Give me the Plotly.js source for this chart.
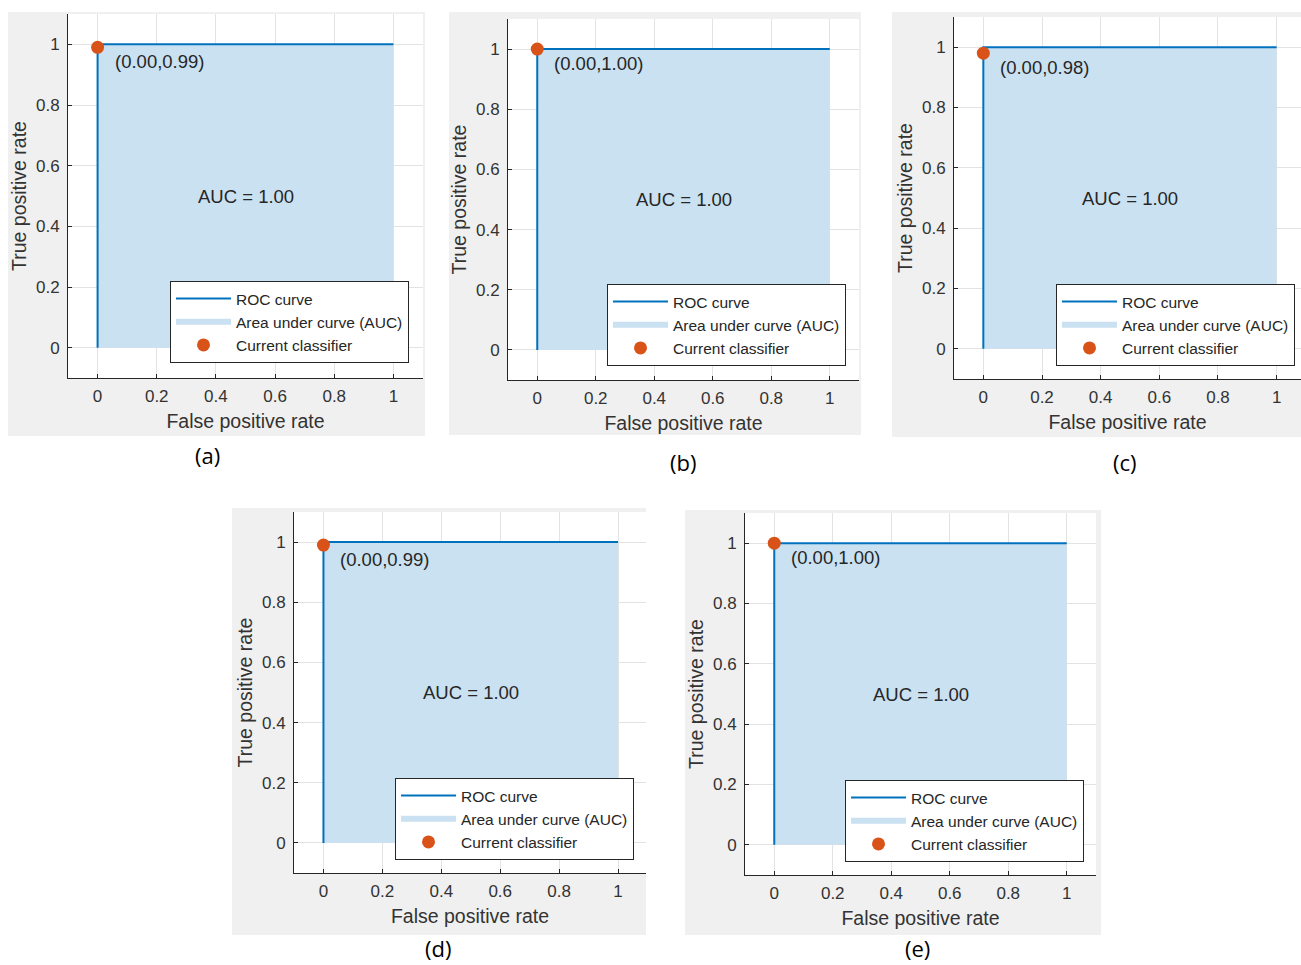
<!DOCTYPE html>
<html>
<head>
<meta charset="utf-8">
<script src="https://cdn.plot.ly/plotly-3.0.1.min.js"></script>
<style>
  html, body { margin: 0; padding: 0; background: #ffffff; }
  #chart { width: 1301px; height: 965px; }
</style>
</head>
<body>
<div id="chart"></div>
<script>
// ---------------- data ----------------
const panelLabels = ['(a)', '(b)', '(c)', '(d)', '(e)'];
const rocFPR_a = [0, 0, 0, 1];
const rocTPR_a = [0, 0.99, 1, 1];
const rocFPR_b = [0, 0, 0, 1];
const rocTPR_b = [0, 1.00, 1, 1];
const rocFPR_c = [0, 0, 0, 1];
const rocTPR_c = [0, 0.98, 1, 1];
const rocFPR_d = [0, 0, 0, 1];
const rocTPR_d = [0, 0.99, 1, 1];
const rocFPR_e = [0, 0, 0, 1];
const rocTPR_e = [0, 1.00, 1, 1];
const opFPR = [0.00, 0.00, 0.00, 0.00, 0.00];
const opTPR = [0.99, 1.00, 0.98, 0.99, 1.00];
const aucValues = [1.00, 1.00, 1.00, 1.00, 1.00];
const tickValues = [0, 0.2, 0.4, 0.6, 0.8, 1];
const tickLabels = ['0', '0.2', '0.4', '0.6', '0.8', '1'];
const seriesNames = ['ROC curve', 'Area under curve (AUC)', 'Current classifier'];
const xTitle = 'False positive rate';
const yTitle = 'True positive rate';

const rocFPR = [rocFPR_a, rocFPR_b, rocFPR_c, rocFPR_d, rocFPR_e];
const rocTPR = [rocTPR_a, rocTPR_b, rocTPR_c, rocTPR_d, rocTPR_e];

// ---------------- layout geometry (pixels) ----------------
const W = 1301, H = 965;
const geo = [
  {plot: [68, 423, 14, 378],  bg: [8, 425, 12, 436],   label: [207, 455], xr: [-0.1, 1.1],   leg: [409, 363]},
  {plot: [508, 859, 19, 380], bg: [449, 861, 12, 435], label: [683, 462], xr: [-0.1, 1.1],   leg: [846, 366]},
  {plot: [954, 1301, 17, 379],bg: [892, 1301, 12, 437],label: [1125, 462],xr: [-0.1, 1.083], leg: [1295, 366]},
  {plot: [294, 646, 512, 873],bg: [232, 646, 508, 935],label: [438, 948], xr: [-0.1, 1.095], leg: [634, 860]},
  {plot: [745, 1096, 513, 875],bg: [685, 1101, 510, 935],label: [917, 948], xr: [-0.1, 1.1], leg: [1084, 862]}
];
const px = v => v / W;
const py = v => 1 - v / H;

const FONT = '"Liberation Sans", Arial, Helvetica, sans-serif';
const TXT = '#333333';
const ROC_COLOR = '#0072BD';
const AUC_FILL = '#cae1f1';
const OP_COLOR = '#D95319';

const data = [];
const layout = {
  width: W, height: H,
  margin: {l: 0, r: 0, t: 0, b: 0},
  paper_bgcolor: '#ffffff',
  plot_bgcolor: 'rgba(0,0,0,0)',
  showlegend: true,
  font: {family: FONT, color: TXT},
  shapes: [],
  annotations: []
};

geo.forEach((g, i) => {
  const n = i + 1;
  const xa = n === 1 ? 'x' : 'x' + n;
  const ya = n === 1 ? 'y' : 'y' + n;
  const legName = n === 1 ? 'legend' : 'legend' + n;
  const xKey = n === 1 ? 'xaxis' : 'xaxis' + n;
  const yKey = n === 1 ? 'yaxis' : 'yaxis' + n;

  // backgrounds (gray figure area, white axes area)
  layout.shapes.push({type: 'rect', xref: 'paper', yref: 'paper', layer: 'below',
    x0: px(g.bg[0]), x1: px(g.bg[1]), y0: py(g.bg[3]), y1: py(g.bg[2]),
    fillcolor: '#f0f0f0', line: {width: 0}});
  layout.shapes.push({type: 'rect', xref: 'paper', yref: 'paper', layer: 'below',
    x0: px(g.plot[0]), x1: px(g.plot[1]), y0: py(g.plot[3]), y1: py(g.plot[2]),
    fillcolor: '#ffffff', line: {width: 0}});

  const axisCommon = {
    tickmode: 'array', tickvals: tickValues, ticktext: tickLabels,
    showgrid: true, gridcolor: '#e3e3e3', gridwidth: 1,
    zeroline: false, showline: true, linecolor: '#262626', linewidth: 1,
    ticks: 'inside', ticklen: 4, tickcolor: '#262626', tickwidth: 1,
    tickfont: {family: FONT, size: 17, color: TXT},
    fixedrange: true, automargin: false
  };
  layout[xKey] = Object.assign({}, axisCommon, {
    domain: [px(g.plot[0]), px(g.plot[1])],
    range: g.xr, anchor: ya,
    ticklabelstandoff: 3,
    title: {text: xTitle, font: {family: FONT, size: 19.5, color: TXT}, standoff: 8}
  });
  layout[yKey] = Object.assign({}, axisCommon, {
    domain: [py(g.plot[3]), py(g.plot[2])],
    range: [-0.1, 1.1], anchor: xa,
    ticklabelstandoff: 4,
    title: {text: yTitle, font: {family: FONT, size: 19.5, color: TXT}, standoff: 4}
  });

  // traces
  data.push({type: 'scatter', x: rocFPR[i], y: rocTPR[i], xaxis: xa, yaxis: ya,
    mode: 'none', fill: 'tozeroy', fillcolor: AUC_FILL,
    name: seriesNames[1], legend: legName, legendrank: 2, hoverinfo: 'skip'});
  data.push({type: 'scatter', x: rocFPR[i], y: rocTPR[i], xaxis: xa, yaxis: ya,
    mode: 'lines', line: {color: ROC_COLOR, width: 2},
    name: seriesNames[0], legend: legName, legendrank: 1});
  data.push({type: 'scatter', x: [opFPR[i]], y: [opTPR[i]], xaxis: xa, yaxis: ya,
    mode: 'markers', marker: {color: OP_COLOR, size: 13, line: {width: 0}},
    name: seriesNames[2], legend: legName, legendrank: 3, cliponaxis: false});

  // legend
  layout[legName] = {
    x: px(g.leg[0]), y: py(g.leg[1]), xanchor: 'right', yanchor: 'bottom',
    xref: 'paper', yref: 'paper',
    bgcolor: '#ffffff', bordercolor: '#262626', borderwidth: 1,
    font: {family: FONT, size: 15.5, color: '#262626'},
    itemwidth: 55, tracegroupgap: 0, traceorder: 'normal'
  };

  // annotations
  layout.annotations.push({xref: xa, yref: ya, x: opFPR[i], y: opTPR[i],
    text: '(' + opFPR[i].toFixed(2) + ',' + opTPR[i].toFixed(2) + ')',
    showarrow: false, xanchor: 'left', yanchor: 'middle', xshift: 15, yshift: -14,
    font: {family: FONT, size: 18.5, color: '#262626'}});
  layout.annotations.push({xref: xa, yref: ya, x: 0.5, y: 0.5,
    text: 'AUC = ' + aucValues[i].toFixed(2),
    showarrow: false, xanchor: 'center', yanchor: 'middle',
    font: {family: FONT, size: 18.5, color: '#262626'}});
  layout.annotations.push({xref: 'paper', yref: 'paper', x: px(g.label[0]), y: py(g.label[1]),
    text: panelLabels[i], showarrow: false, xanchor: 'center', yanchor: 'middle',
    font: {family: '"Open Sans", "Liberation Sans", sans-serif', size: 22, color: '#000000'}});
});

Plotly.newPlot('chart', data, layout, {displayModeBar: false, staticPlot: true});
</script>
</body>
</html>
